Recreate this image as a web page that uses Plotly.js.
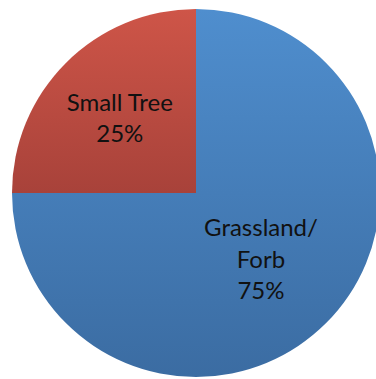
<!DOCTYPE html>
<html><head><meta charset="utf-8">
<script src="https://cdn.plot.ly/plotly-3.0.1.min.js"></script>
<style>html,body{margin:0;padding:0;overflow:hidden;background:#fff;width:376px;height:379px}</style>
</head><body>
<div id="chart" style="width:392px;height:379px"></div>
<script>
const categories = ["Grassland/Forb", "Small Tree"];
const displayLabels = ["Grassland/<br>Forb", "Small Tree"];
const values = [75, 25];
const colors = ["#4682C0", "#BE4D43"];
const gradientTops = ["#4F8ECE", "#CE5548"];
const gradientBottoms = ["#3B6CA2", "#A8423A"];

Plotly.newPlot("chart", [{
  type: "pie",
  labels: categories,
  values: values,
  text: displayLabels,
  texttemplate: "%{text}<br>%{percent:.0%}",
  textposition: "inside",
  insidetextorientation: "horizontal",
  sort: false,
  direction: "clockwise",
  rotation: 0,
  marker: {colors: colors, line: {width: 0}},
  textfont: {family: "Lato", size: 24, color: "#111"},
  domain: {x: [12/392, 380/392], y: [2/379, 370/379]},
  hoverinfo: "none"
}], {
  width: 392, height: 379,
  margin: {l: 0, r: 0, t: 0, b: 0},
  showlegend: false,
  paper_bgcolor: "#fff"
}, {staticPlot: true}).then(function(gd){
  const NS = "http://www.w3.org/2000/svg";
  const svg = gd.querySelector("svg.main-svg");
  let defs = svg.querySelector("defs");
  if (!defs) { defs = document.createElementNS(NS, "defs"); svg.insertBefore(defs, svg.firstChild); }
  const slices = gd.querySelectorAll("g.slice path.surface");
  slices.forEach(function(p, i){
    const id = "grad" + i;
    const lg = document.createElementNS(NS, "linearGradient");
    lg.setAttribute("id", id);
    lg.setAttribute("x1", "0"); lg.setAttribute("y1", "0");
    lg.setAttribute("x2", "0"); lg.setAttribute("y2", "1");
    [[0, gradientTops[i]], [1, gradientBottoms[i]]].forEach(function(s){
      const st = document.createElementNS(NS, "stop");
      st.setAttribute("offset", s[0]);
      st.setAttribute("stop-color", s[1]);
      lg.appendChild(st);
    });
    defs.appendChild(lg);
    p.style.fill = "url(#" + id + ")";
  });
});
</script>
</body></html>
